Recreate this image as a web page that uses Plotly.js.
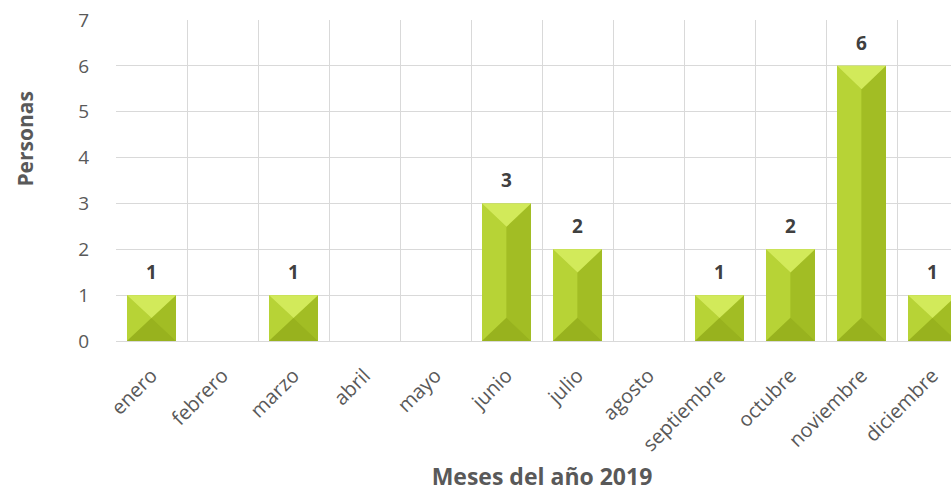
<!DOCTYPE html>
<html>
<head>
<meta charset="utf-8">
<script src="https://cdn.plot.ly/plotly-3.0.1.min.js"></script>
<style>
html,body{margin:0;padding:0;overflow:hidden;background:#fff;width:951px;height:492px;}
#chart{width:990px;height:492px;}
</style>
</head>
<body>
<div id="chart"></div>
<script>
const months = ["enero","febrero","marzo","abril","mayo","junio","julio","agosto","septiembre","octubre","noviembre","diciembre"];
const personas = [1,0,1,0,0,3,2,0,1,2,6,1];
const xTitle = "Meses del año 2019";
const yTitle = "Personas";

const barWidth = 0.69;
const pxPerX = 71;      // approx px per category
const pxPerY = 45.86;   // approx px per unit

const shapes = [];
personas.forEach((v, i) => {
  if (!v) return;
  const x0 = i - barWidth / 2, x1 = i + barWidth / 2, xm = i;
  const halfPx = barWidth * pxPerX / 2;
  const hPx = v * pxPerY;
  const dPx = Math.min(halfPx * 0.95, hPx / 2);
  const dy = dPx / pxPerY;
  shapes.push({type:'path', xref:'x', yref:'y', layer:'above', line:{width:0},
    fillcolor:'#b7d336', path:`M${x0},0 L${x0},${v} L${xm},${v-dy} L${xm},${dy} Z`});
  shapes.push({type:'path', xref:'x', yref:'y', layer:'above', line:{width:0},
    fillcolor:'#a2bd24', path:`M${x1},0 L${x1},${v} L${xm},${v-dy} L${xm},${dy} Z`});
  shapes.push({type:'path', xref:'x', yref:'y', layer:'above', line:{width:0},
    fillcolor:'#d2ea5a', path:`M${x0},${v} L${x1},${v} L${xm},${v-dy} Z`});
  shapes.push({type:'path', xref:'x', yref:'y', layer:'above', line:{width:0},
    fillcolor:'#98b21e', path:`M${x0},0 L${x1},0 L${xm},${dy} Z`});
});

const annotations = personas.map((v, i) => v ? ({
  x: i, y: v, xref:'x', yref:'y', text: String(v), showarrow:false,
  yanchor:'bottom', yshift: 8,
  font:{family:'Open Sans, sans-serif', size:19, color:'#404040', weight:'bold'}
}) : null).filter(a => a);

// y axis title (placed above the axis centre, as in the reference)
annotations.push({
  text: yTitle, xref:'paper', yref:'paper', x: -0.107, y: 0.63,
  xanchor:'center', yanchor:'middle', textangle: -90, showarrow:false,
  font:{family:'Open Sans, sans-serif', size:21, color:'#595959', weight:'bold'}
});

const trace = {
  type:'bar', x: months, y: personas, width: barWidth,
  marker:{color:'#a9c52a', line:{width:0}},
  hoverinfo:'x+y'
};

const layout = {
  width: 990, height: 492,
  margin:{l:116, r:22, t:20, b:151},
  paper_bgcolor:'#fff', plot_bgcolor:'#fff',
  showlegend:false,
  font:{family:'Open Sans, sans-serif', color:'#595959'},
  xaxis:{
    type:'category', tickson:'boundaries', showgrid:true, gridcolor:'#d9d9d9', gridwidth:1,
    tickangle:-45, ticks:'', tickfont:{size:20, color:'#595959'},
    ticklabelstandoff: 18, showline:false, zeroline:false,
    title:{text: xTitle, font:{size:23, color:'#595959', weight:'bold'}, standoff: 22},
    range:[-0.5, 11.5], fixedrange:true, automargin:false
  },
  yaxis:{
    range:[0,7], dtick:1, showgrid:true, gridcolor:'#d9d9d9', gridwidth:1,
    zeroline:true, zerolinecolor:'#d9d9d9', zerolinewidth:1,
    ticks:'', tickfont:{size:19, color:'#595959'}, ticklabelstandoff: 26,
    fixedrange:true, automargin:false
  },
  shapes: shapes,
  annotations: annotations
};

Plotly.newPlot('chart', [trace], layout, {displayModeBar:false, staticPlot:true});
</script>
</body>
</html>
